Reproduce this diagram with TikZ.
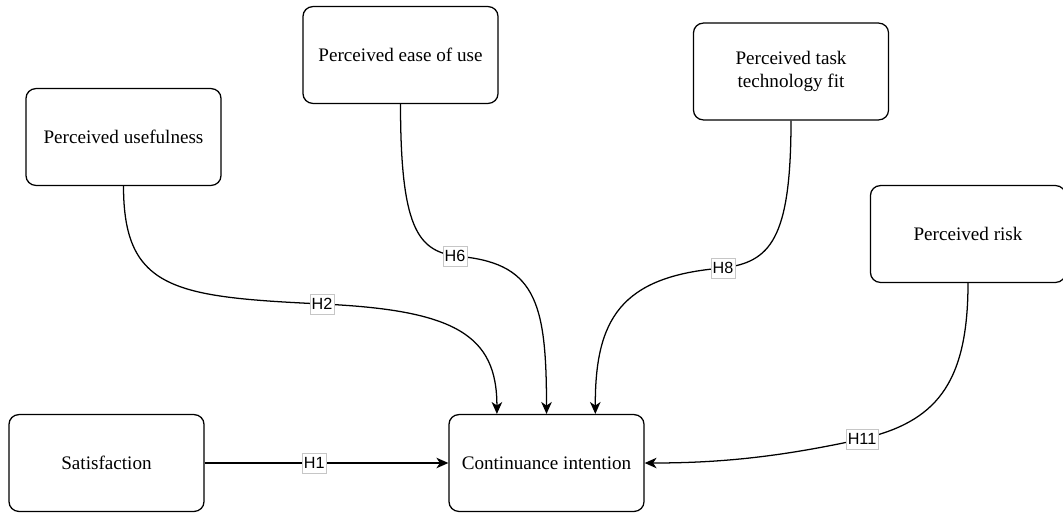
\documentclass[tikz,border=0pt]{standalone}
\usepackage{fontspec}
\setmainfont{Liberation Serif}
\newfontfamily\hypfont{Liberation Sans}
\usetikzlibrary{arrows.meta}
\begin{document}
\begin{tikzpicture}[x=0.025cm,y=-0.025cm,line width=0.9pt,
factor/.style={draw,rectangle,rounded corners=7pt,minimum width=4.875cm,minimum height=2.42cm,align=center,font=\fontsize{13.6}{16}\selectfont,line width=0.9pt},
hyp/.style={draw=gray!45,fill=white,line width=0.4pt,inner xsep=1.3pt,inner ysep=1pt,minimum height=14pt,text depth=0pt,font=\hypfont\fontsize{11.5}{12}\selectfont,rounded corners=0pt},
link/.style={-{Stealth[length=8.5pt,width=7.5pt,inset=2.5pt]}}]
\useasboundingbox (0,0) rectangle (1063,513);
\draw (123.5,137) node[factor] (PU) {Perceived usefulness};
\draw (400.5,55) node[factor] (PEOU) {Perceived ease of use};
\draw (791,71.5) node[factor] (PTTF) {Perceived task\\technology fit};
\draw (968,234) node[factor] (PR) {Perceived risk};
\draw (106.5,463) node[factor] (SAT) {Satisfaction};
\draw (546.5,463) node[factor] (CI) {Continuance intention};
\draw[link] (SAT) -- (CI) node[hyp,pos=0.45] {H1};
\draw[link] (PU.south) .. controls (123.5,290) and (175,297) .. (322,304) node[hyp] {H2}
  .. controls (455,310) and (497,335) .. ([xshift=-1.24cm]CI.north);
\draw[link] (PEOU.south) .. controls (400.5,228) and (418,250) .. (455,256) node[hyp] {H6}
  .. controls (535,262) and (546.5,300) .. (CI.north);
\draw[link] (PTTF.south) .. controls (791,240) and (770,262) .. (723,268) node[hyp] {H8}
  .. controls (620,276) and (595,320) .. ([xshift=1.22cm]CI.north);
\draw[link] (PR.south) .. controls (968,385) and (935,422) .. (862,439) node[hyp] {H11}
  .. controls (780,457) and (720,463) .. (CI.east);
\end{tikzpicture}
\end{document}
